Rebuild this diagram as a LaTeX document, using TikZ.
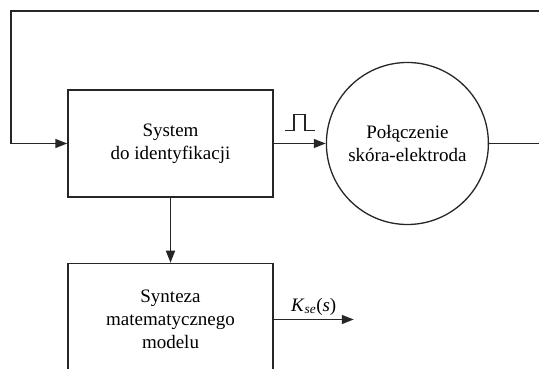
\documentclass[tikz,border=0pt]{standalone}
\usepackage{fontspec}
\setmainfont{Liberation Serif}
\usepackage{tikz}
\usetikzlibrary{arrows.meta, positioning}

\begin{document}
\begin{tikzpicture}[
  x=1pt, y=1pt,
  node distance=65pt and 52pt,
  box/.style={rectangle, draw=black!85, line width=1.5pt, minimum width=205pt, minimum height=107pt, align=center, font=\fontsize{19}{23}\selectfont},
  joint/.style={circle, draw=black!85, line width=1.3pt, minimum size=162pt, inner sep=0pt, align=center, font=\fontsize{19}{23}\selectfont},
  arrow/.style={draw=black!85, line width=1.5pt, -{Triangle[length=12pt, width=9pt]}},
  line/.style={draw=black!85, line width=1.5pt}
]
\useasboundingbox (0,0) rectangle (539,369);
\clip (0,0) rectangle (539,369);

% Main blocks
\node (sys) [box] at (170.5,225.5) {System\\do identyfikacji};
\node (joint) [joint, right=of sys] {Połączenie\\skóra-elektroda};
\node (model) [box, minimum height=112pt, below=of sys] {Synteza\\matematycznego\\modelu};

% Feedback loop
\coordinate (fbr) at ([xshift=60pt]joint.east);
\coordinate (fbl) at (11,358);
\draw [arrow] (joint.east) -- (fbr) |- (fbl) |- (sys.west);

% Forward arrows
\draw [arrow] (sys.east) -- (joint.west) coordinate[midway] (mid);
\draw [line] ([shift={(-15pt,13pt)}]mid) -- ++(9,0) -- ++(0,16) -- ++(11,0) -- ++(0,-16) -- ++(10,0);
\draw [arrow] (sys.south) -- (model.north);

% Output
\coordinate (out) at ([xshift=80pt]model.east);
\draw [arrow] (model.east) -- (out) node[midway, above, font=\fontsize{19}{23}\selectfont] {\textit{K}\textsubscript{\textit{se}}(\textit{s})};

\end{tikzpicture}
\end{document}
